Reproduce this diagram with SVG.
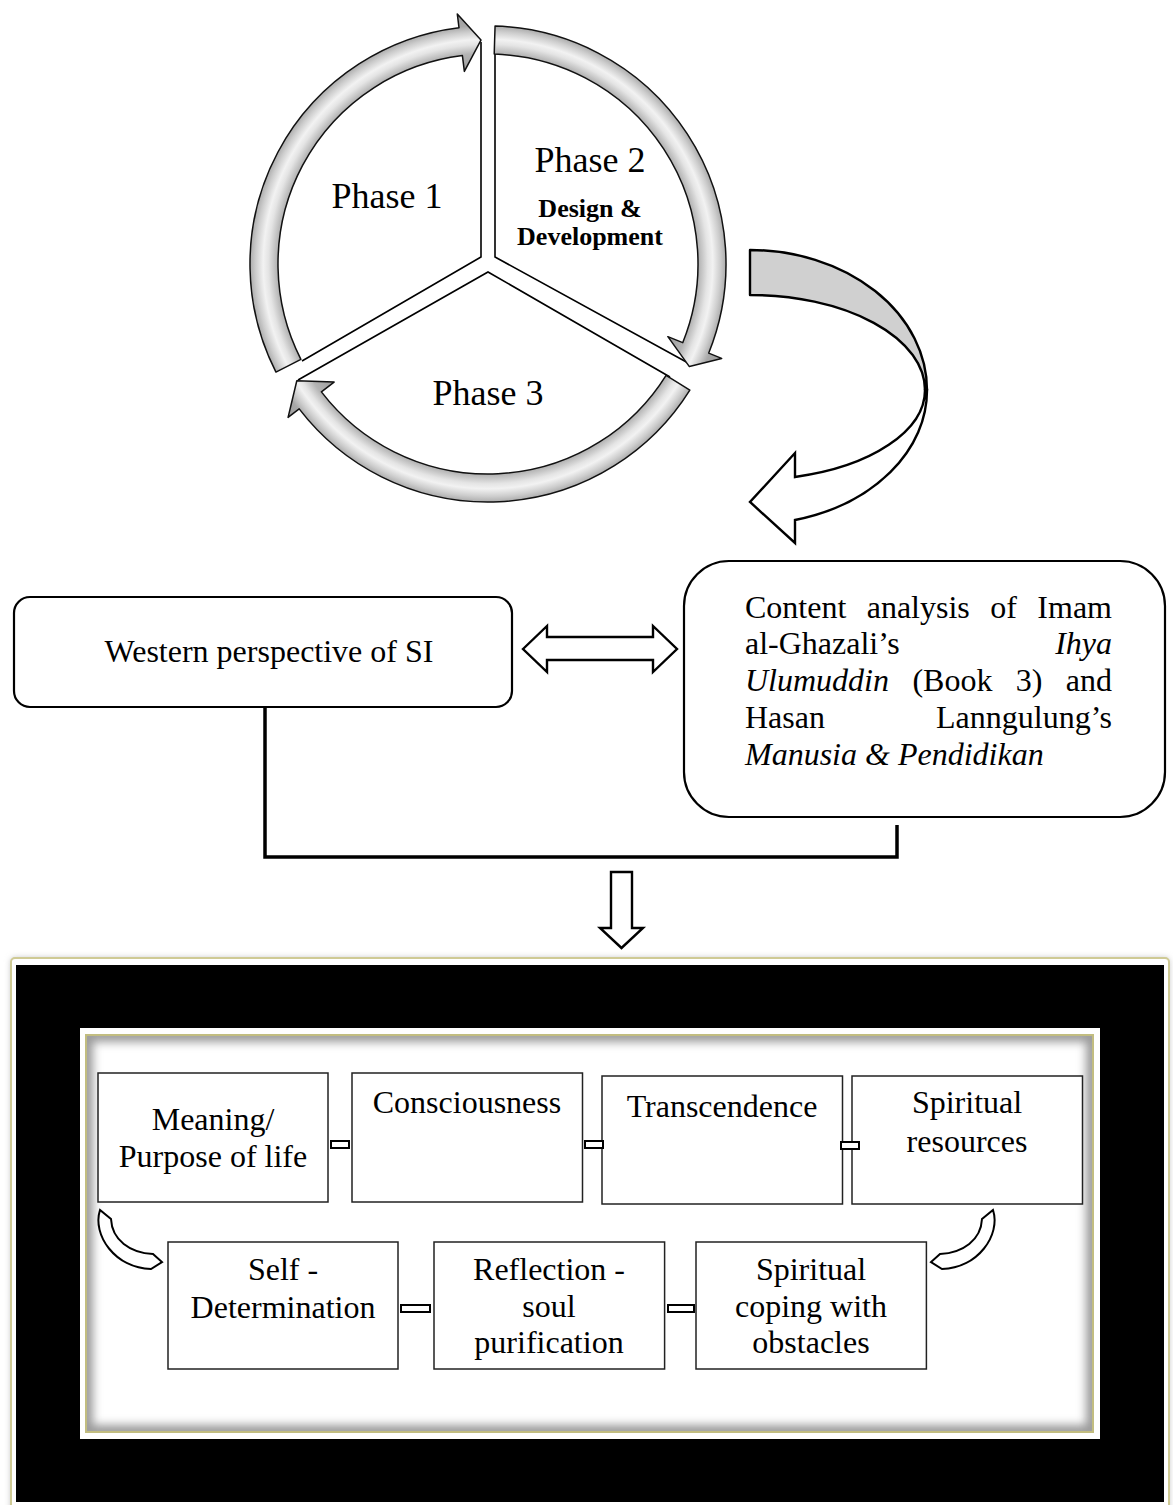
<svg xmlns="http://www.w3.org/2000/svg" width="1173" height="1505" viewBox="0 0 1173 1505">
<style>
text{font-family:"Liberation Serif","Times New Roman",serif;fill:#000}
.t32{font-size:32px}
.ph{font-size:36px}
.bd{font-size:26px;font-weight:bold}
.it{font-style:italic}
.ring{fill:url(#ringGrad);stroke:#111;stroke-width:1.5;stroke-linejoin:round}
.div{fill:none;stroke:#000;stroke-width:1.6}
.box{fill:#fff;stroke:#222;stroke-width:1.5}
.rbox{fill:#fff;stroke:#000;stroke-width:2.2}
.hollow{fill:#fff;stroke:#000;stroke-width:2.4;stroke-linejoin:miter}
.link{fill:#fff;stroke:#000;stroke-width:2}
</style>
<defs>
<radialGradient id="ringGrad" gradientUnits="userSpaceOnUse" cx="488" cy="264" r="254">
<stop offset="0.76" stop-color="#9a9a9a"/>
<stop offset="0.83" stop-color="#b4b4b4"/>
<stop offset="0.865" stop-color="#e4e4e4"/>
<stop offset="0.885" stop-color="#f2f2f2"/>
<stop offset="0.915" stop-color="#cdcdcd"/>
<stop offset="0.94" stop-color="#a8a8a8"/>
<stop offset="1" stop-color="#9a9a9a"/>
</radialGradient>
<filter id="soft" x="-5%" y="-5%" width="110%" height="110%">
<feGaussianBlur stdDeviation="3"/>
</filter>
<filter id="inner" x="-5%" y="-5%" width="110%" height="110%">
<feGaussianBlur stdDeviation="5"/>
</filter>
<clipPath id="panelClip"><rect x="86" y="1035" width="1007" height="397"/></clipPath>
</defs>

<g id="cycle">
<g id="phase1">
<polyline class="div" points="302,361 481,257 481,42"/>
<path class="ring" d="M275.94,372.05 A238,238 0 0 1 459,27.77 L457.29,13.88 L480.96,40.11 L464.36,71.45 L462.41,55.56 A210,210 0 0 0 300.89,359.34 Z"/>
<text class="ph" x="387" y="208" text-anchor="middle">Phase 1</text>
</g>
<g id="phase2">
<polyline class="div" points="495,40 495,257 690,364"/>
<path class="ring" d="M495.06,26.1 A238,238 0 0 1 708.67,353.16 L721.65,358.4 L689.37,366.6 L667.87,336.67 L682.71,342.67 A210,210 0 0 0 494.23,54.09 Z"/>
<text class="ph" x="590" y="172" text-anchor="middle">Phase 2</text>
<text class="bd" x="590" y="217" text-anchor="middle">Design &amp;</text>
<text class="bd" x="590" y="245" text-anchor="middle">Development</text>
</g>
<g id="phase3">
<polyline class="div" points="298,380 488,272 670,377"/>
<path class="ring" d="M689.84,390.12 A238,238 0 0 1 299.18,408.88 L288.08,417.41 L296.81,380.71 L334.09,382.1 L321.4,391.84 A210,210 0 0 0 666.09,375.28 Z"/>
<text class="ph" x="488" y="405" text-anchor="middle">Phase 3</text>
</g>
</g>

<g id="curved-arrow">
<path d="M750,250 A177,140 0 0 1 927,390 L925,390 A175,95 0 0 0 750,295 Z" fill="#d0d0d0" stroke="#000" stroke-width="2.4" stroke-linejoin="round"/>
<path d="M927,390 A177,134 0 0 1 795,520 L795,543 L750,502 L795,453 L795,477 A175,90 0 0 0 925,390 Z" fill="#fff" stroke="#000" stroke-width="2.4"/>
</g>

<g id="western">
<rect class="rbox" x="14" y="597" width="498" height="110" rx="16"/>
<text class="t32" x="269" y="662" text-anchor="middle">Western perspective of SI</text>
</g>

<g id="content-analysis">
<rect class="rbox" x="684" y="561" width="481" height="256" rx="45"/>
<text class="t32" y="618"><tspan x="745">Content</tspan><tspan x="866.7">analysis</tspan><tspan x="990.2">of</tspan><tspan x="1112" text-anchor="end">Imam</tspan></text>
<text class="t32" y="654"><tspan x="745">al-Ghazali’s</tspan><tspan x="1112" text-anchor="end" class="it">Ihya</tspan></text>
<text class="t32" y="691"><tspan x="745" class="it">Ulumuddin</tspan><tspan x="912.4">(Book</tspan><tspan x="1015.8">3)</tspan><tspan x="1112" text-anchor="end">and</tspan></text>
<text class="t32" y="728"><tspan x="745">Hasan</tspan><tspan x="1112" text-anchor="end">Lanngulung’s</tspan></text>
<text class="t32 it" x="745" y="765">Manusia &amp; Pendidikan</text>
</g>

<g id="frame">
<rect x="11" y="958" width="1158" height="560" rx="4" fill="#bdbdbd" filter="url(#soft)"/>
<rect x="11" y="958" width="1158" height="560" rx="4" fill="#fff" stroke="#cfca95" stroke-width="2"/>
<rect x="16" y="965" width="1148" height="537" fill="#000"/>
<rect x="80" y="1028" width="1020" height="411" fill="#fff"/>
<g clip-path="url(#panelClip)">
<rect x="86" y="1035" width="1007" height="397" fill="#fff"/>
<rect x="86" y="1035" width="1007" height="397" fill="none" stroke="#9a9a9a" stroke-width="14" filter="url(#inner)"/>
</g>
<rect x="86" y="1035" width="1007" height="397" fill="none" stroke="#c2bd80" stroke-width="2"/>
</g>

<g id="meaning">
<rect class="box" x="98" y="1073" width="230" height="129"/>
<text class="t32" x="213" y="1130" text-anchor="middle">Meaning/</text>
<text class="t32" x="213" y="1167" text-anchor="middle">Purpose of life</text>
</g>
<g id="consciousness">
<rect class="box" x="352" y="1073" width="230.5" height="129"/>
<text class="t32" x="467" y="1113" text-anchor="middle">Consciousness</text>
</g>
<g id="transcendence">
<rect class="box" x="602" y="1076" width="240.5" height="128"/>
<text class="t32" x="722" y="1117" text-anchor="middle">Transcendence</text>
</g>
<g id="spiritual-resources">
<rect class="box" x="852" y="1076" width="230.5" height="128"/>
<text class="t32" x="967" y="1113" text-anchor="middle">Spiritual</text>
<text class="t32" x="967" y="1152" text-anchor="middle">resources</text>
</g>
<g id="self-determination">
<rect class="box" x="168" y="1242" width="230" height="127"/>
<text class="t32" x="283" y="1280" text-anchor="middle">Self -</text>
<text class="t32" x="283" y="1318" text-anchor="middle">Determination</text>
</g>
<g id="reflection">
<rect class="box" x="434" y="1242" width="230.6" height="127"/>
<text class="t32" x="549" y="1280" text-anchor="middle">Reflection -</text>
<text class="t32" x="549" y="1317" text-anchor="middle">soul</text>
<text class="t32" x="549" y="1353" text-anchor="middle">purification</text>
</g>
<g id="spiritual-coping">
<rect class="box" x="696" y="1242" width="230.4" height="127"/>
<text class="t32" x="811" y="1280" text-anchor="middle">Spiritual</text>
<text class="t32" x="811" y="1317" text-anchor="middle">coping with</text>
<text class="t32" x="811" y="1353" text-anchor="middle">obstacles</text>
</g>

<g id="connectors">
<polyline points="265,707 265,857 897,857 897,825" fill="none" stroke="#000" stroke-width="3.5"/>
<path class="hollow" d="M523,649 L547,626 L547,637 L653,637 L653,626 L677,649 L653,672 L653,660 L547,660 L547,672 Z"/>
<path class="hollow" d="M611,872 L632,872 L632,928 L643,928 L621.5,948 L600,928 L611,928 Z"/>
<rect class="link" x="331" y="1141" width="18" height="7"/>
<rect class="link" x="585" y="1141" width="18" height="7"/>
<rect class="link" x="841" y="1142" width="18" height="7"/>
<rect class="link" x="401" y="1305" width="29" height="7"/>
<rect class="link" x="668" y="1305" width="26" height="7"/>
<path class="link" d="M100,1210 C92,1235 115,1268 151,1269 L162,1262 L153,1254 C130,1253 112,1240 111,1219 Z"/>
<path class="link" d="M993,1210 C1001,1235 978,1268 942,1269 L931,1262 L940,1254 C963,1253 981,1240 982,1219 Z"/>
</g>
</svg>
